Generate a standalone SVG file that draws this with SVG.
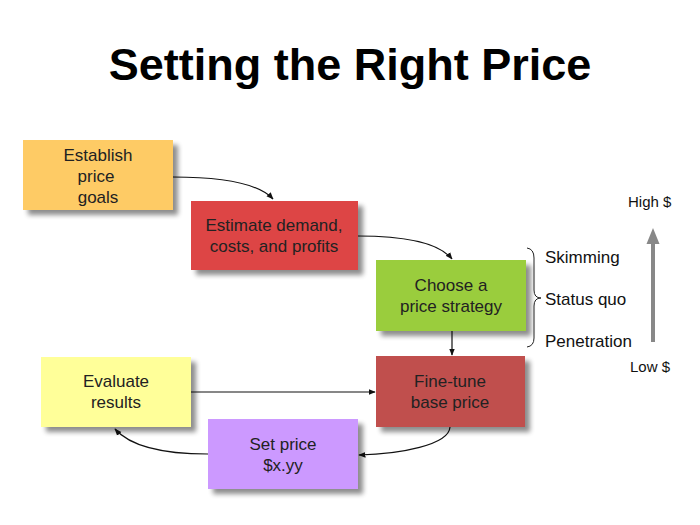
<svg xmlns="http://www.w3.org/2000/svg" width="700" height="525" viewBox="0 0 700 525">
<defs>
<filter id="sh" x="-10%" y="-10%" width="130%" height="140%">
<feGaussianBlur in="SourceAlpha" stdDeviation="2.5"/>
<feOffset dx="5" dy="5" result="b"/>
<feComponentTransfer><feFuncA type="linear" slope="0.45"/></feComponentTransfer>
<feMerge><feMergeNode/><feMergeNode in="SourceGraphic"/></feMerge>
</filter>
<marker id="ah" viewBox="0 0 10 10" refX="9" refY="5" markerWidth="6" markerHeight="6" orient="auto">
<path d="M0,1 L10,5 L0,9 Z" fill="#111"/>
</marker>
</defs>
<style>
.t{font-family:"Liberation Sans",Arial,sans-serif;font-size:17px;fill:#222;text-anchor:middle}
.s{font-family:"Liberation Sans",Arial,sans-serif;font-size:17px;fill:#111}
.c{fill:none;stroke:#111;stroke-width:1.2;marker-end:url(#ah)}
</style>
<rect width="700" height="525" fill="#fff"/>
<text x="350" y="80" text-anchor="middle" style="font-family:'Liberation Sans',Arial,sans-serif;font-weight:bold;font-size:45px;fill:#000">Setting the Right Price</text>

<g id="connectors">
<path class="c" d="M173,177 C230,177 260,185 273,199"/>
<path class="c" d="M358,236 C410,236 440,244 452,259"/>
<path class="c" d="M452,331 L452,355"/>
<path class="c" d="M450,427 C449,445 400,454 359,455"/>
<path class="c" d="M208,454 C160,454 130,446 115,429"/>
<path class="c" d="M191,392 L375,392"/>
</g>

<g id="n1"><rect x="23" y="140" width="150" height="70" fill="#FECB65" filter="url(#sh)"/>
<text class="t"><tspan x="98" y="161">Establish</tspan><tspan x="96" y="182">price</tspan><tspan x="98" y="203">goals</tspan></text></g>
<g id="n2"><rect x="191" y="201" width="167" height="69" fill="#DD4444" filter="url(#sh)"/>
<text class="t"><tspan x="274" y="231">Estimate demand,</tspan><tspan x="274" y="252">costs, and profits</tspan></text></g>
<g id="n3"><rect x="376" y="260" width="150" height="71" fill="#9ACD3C" filter="url(#sh)"/>
<text class="t"><tspan x="451" y="291">Choose a</tspan><tspan x="451" y="312">price strategy</tspan></text></g>
<g id="n4"><rect x="376" y="356" width="149" height="71" fill="#C0504D" filter="url(#sh)"/>
<text class="t"><tspan x="450" y="387">Fine-tune</tspan><tspan x="450" y="408">base price</tspan></text></g>
<g id="n5"><rect x="41" y="357" width="150" height="70" fill="#FFFF99" filter="url(#sh)"/>
<text class="t"><tspan x="116" y="387">Evaluate</tspan><tspan x="116" y="408">results</tspan></text></g>
<g id="n6"><rect x="208" y="419" width="150" height="70" fill="#CC99FF" filter="url(#sh)"/>
<text class="t"><tspan x="283" y="450">Set price</tspan><tspan x="283" y="471">$x.yy</tspan></text></g>

<g id="strategies">
<path d="M527,248 Q534,249 534,258 L534,290 Q534,298 541,298 Q534,298 534,306 L534,338 Q534,346 527,347" fill="none" stroke="#222" stroke-width="1"/>
<text class="s" x="545" y="263">Skimming</text>
<text class="s" x="545" y="305">Status quo</text>
<text class="s" x="545" y="347">Penetration</text>
</g>
<g id="scale">
<text class="s" x="628" y="207" style="font-size:15px">High $</text>
<text class="s" x="630" y="372" style="font-size:15px">Low $</text>
<path d="M651,342 L651,244 L646.5,244 L653,228 L659.5,244 L655,244 L655,342 Z" fill="#888"/>
</g>
</svg>
